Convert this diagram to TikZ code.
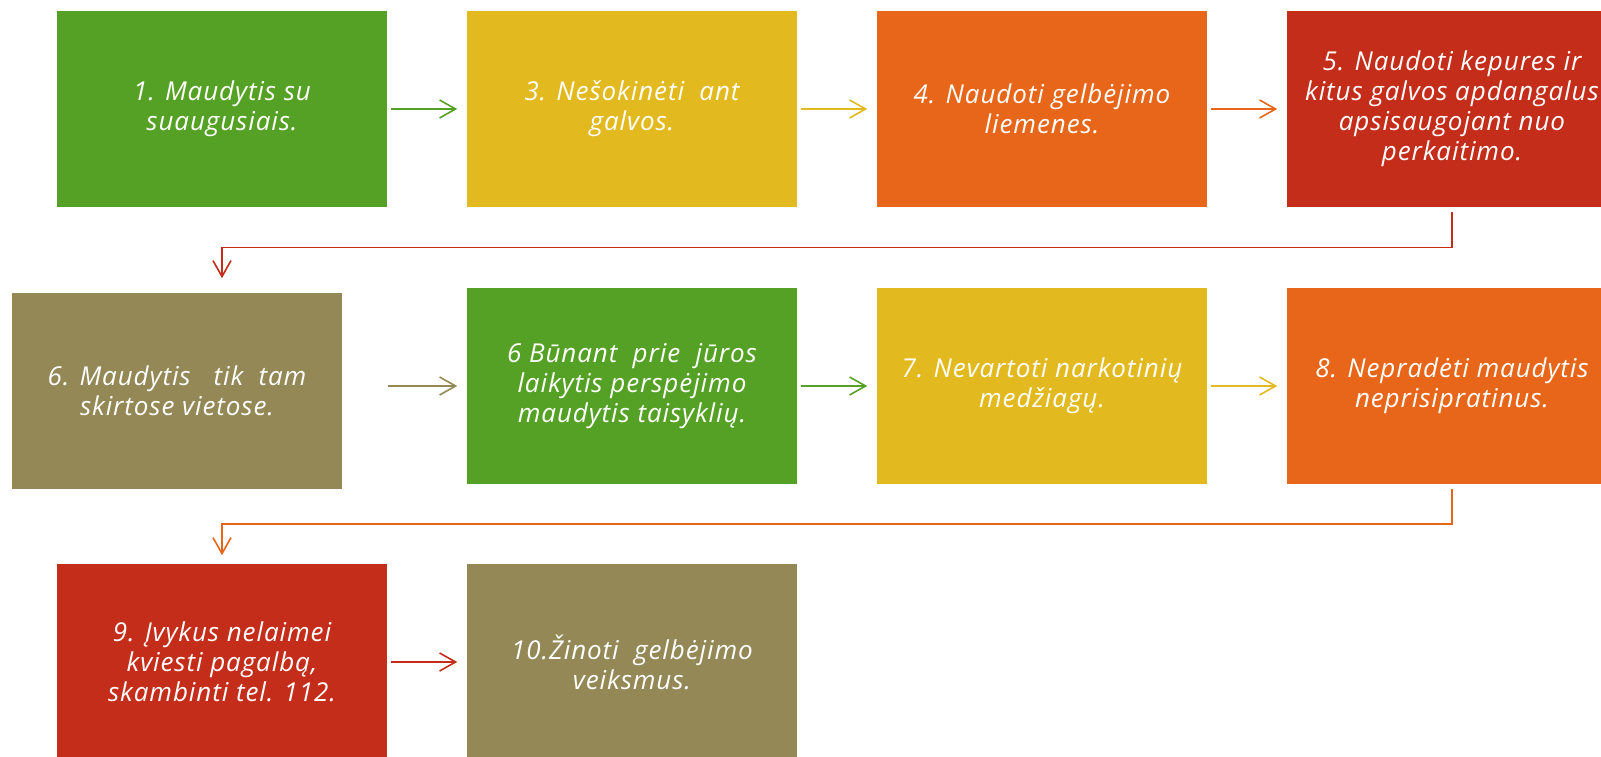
\documentclass[tikz,border=0pt]{standalone}
\usepackage{fontspec}
\setmainfont{Open Sans}[LetterSpace=3.5]
\usetikzlibrary{arrows.meta,calc,positioning}

\definecolor{stepgreen}{RGB}{85,161,37}
\definecolor{stepyellow}{RGB}{227,185,32}
\definecolor{steporange}{RGB}{231,102,26}
\definecolor{stepred}{RGB}{195,45,25}
\definecolor{stepolive}{RGB}{147,136,86}

\tikzset{
  rule/.style={minimum width=330pt, minimum height=196pt, inner sep=0pt,
    align=center, text=white, font=\fontsize{26}{30}\selectfont\itshape, fill=#1},
  link/.style={draw=#1, shorten <=3pt, shorten >=9pt}
}

\begin{document}
\begin{tikzpicture}[x=1pt,y=-1pt,->,>={Straight Barb[length=16pt,width=18pt]},line width=1.6pt]
            \clip (0,0) rectangle (1601,757);

            % first row
            \node[rule=stepgreen]  (b1) at (222,109)  {1. Maudytis su\\suaugusiais.};
            \node[rule=stepyellow] (b3) at (632,109)  {3. Nešokinėti\ \ ant\\galvos.};
            \node[rule=steporange] (b4) at (1042,109) {4. Naudoti gelbėjimo\\liemenes.};
            \node[rule=stepred]    (b5) at (1452,109) {5. Naudoti kepures ir\\kitus galvos apdangalus\\apsisaugojant nuo\\perkaitimo.};

            % second row
            \node[rule=stepolive]  (b6)  at (177,391)  {6. Maudytis\ \ \ tik\ \ tam\\skirtose vietose.};
            \node[rule=stepgreen]  (b6b) at (632,386)  {6 Būnant\ \ prie\ \ jūros\\laikytis perspėjimo\\maudytis taisyklių.};
            \node[rule=stepyellow] (b7)  at (1042,386) {7. Nevartoti narkotinių\\medžiagų.};
            \node[rule=steporange] (b8)  at (1452,386) {8. Nepradėti maudytis\\neprisipratinus.};

            % third row
            \node[rule=stepred]    (b9)  at (222,662)  {9. Įvykus nelaimei\\kviesti pagalbą,\\skambinti tel. 112.};
            \node[rule=stepolive]  (b10) at (632,662)  {10.Žinoti\ \ gelbėjimo\\veiksmus.};

            \draw[link=stepgreen]  (b1) -- (b3);
            \draw[link=stepyellow] (b3) -- (b4);
            \draw[link=steporange] (b4) -- (b5);
            \draw[link=stepred, shorten <=4pt]
              (b5.south) -- ($(b5.south)!.5!(b8.north)$) -| (b1.south |- b6b.north);

            \draw[link=stepolive, shorten <=45pt] (b6b.west -| b6.east) -- (b6b.west);
            \draw[link=stepgreen]  (b6b) -- (b7);
            \draw[link=stepyellow] (b7) -- (b8);
            \draw[link=steporange, shorten <=4pt, shorten >=8pt]
              (b8.south) -- ($(b8.south)!.5!(b9.north -| b8.south)$) -| (b9.north);

            \draw[link=stepred]    (b9) -- (b10);
        \end{tikzpicture}
\end{document}
